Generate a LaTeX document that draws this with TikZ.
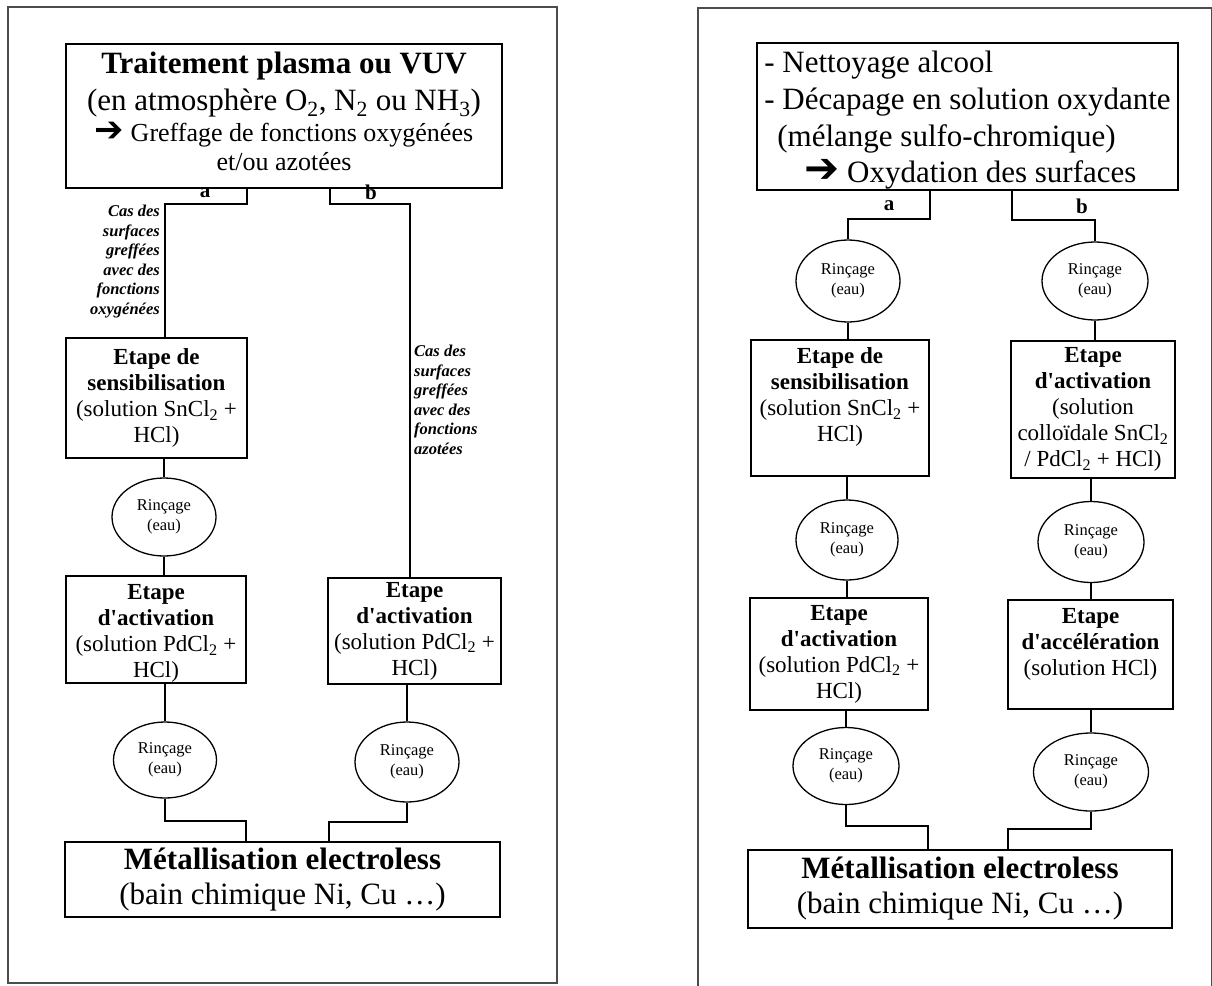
\documentclass[tikz,border=0pt]{standalone}
\usepackage{fontspec}
\setmainfont{Liberation Serif}
\newfontfamily\dejavu{DejaVu Sans}
\usetikzlibrary{shapes.geometric,calc}
\newcommand{\arrowsym}{{\dejavu\scalebox{1.35}{\char"2794}}}
\newcommand{\apos}{\textquotesingle}
\begin{document}
\begin{tikzpicture}[x=1pt,y=-1pt,
  frame/.style={draw=black!70,line width=1.4pt},
  box/.style={draw,line width=2.8pt,inner sep=0pt,align=center,font=\fontsize{23}{26}\selectfont},
  bigbox/.style={draw,line width=2.8pt,inner sep=0pt,align=center,font=\fontsize{26}{29}\selectfont},
  rinse/.style={draw,ellipse,line width=1.3pt,inner sep=0pt,align=center,font=\fontsize{16.5}{19.5}\selectfont},
  conn/.style={line width=2pt},
  branch/.style={font=\fontsize{21}{22}\selectfont\bfseries,inner sep=0pt},
  casnote/.style={font=\fontsize{16.5}{19.5}\selectfont\bfseries\itshape,inner sep=0pt}
]
\useasboundingbox (0,0) rectangle (1212,985);
% frames
\draw[frame] (8,7) rectangle (557,983);
\draw[frame] (698,1000) -- (698,8) -- (1211.3,8) -- (1211.3,1000);

% ---------------- left diagram ----------------
\node[bigbox,minimum width=436,minimum height=144] (T1) at (284,116)
 {{\fontsize{31}{37}\selectfont\bfseries Traitement plasma ou VUV}\\[8pt]
  {\fontsize{31}{37}\selectfont (en atmosphère O\textsubscript{2}, N\textsubscript{2} ou NH\textsubscript{3})}\\[2pt]
  \arrowsym\ Greffage de fonctions oxygénées\\
  et/ou azotées\\[-19pt]\mbox{}};
\node[box,minimum width=181,minimum height=120] (S1) at (156.5,398)
 {\textbf{Etape de}\\\textbf{sensibilisation}\\(solution SnCl\textsubscript{2} +\\HCl)};
\node[rinse,minimum width=104,minimum height=78] (R1) at (164,517) {Rinçage\\(eau)};
\node[box,minimum width=180,minimum height=107] (A1) at (156,629.5)
 {\mbox{}\\[-3pt]\textbf{Etape}\\\textbf{d\apos activation}\\(solution PdCl\textsubscript{2} +\\HCl)};
\node[rinse,minimum width=103,minimum height=76] (R2) at (165,760) {Rinçage\\(eau)};
\node[box,minimum width=173,minimum height=106] (A2) at (414.5,631)
 {\textbf{Etape}\\\textbf{d\apos activation}\\(solution PdCl\textsubscript{2} +\\HCl)};
\node[rinse,minimum width=104,minimum height=80] (R3) at (407,762) {Rinçage\\(eau)};
\node[box,minimum width=435,minimum height=75,font=\fontsize{31}{35}\selectfont] (M1) at (282.5,879.5)
 {\textbf{Métallisation electroless}\\(bain chimique Ni, Cu …)};

\node[branch] (la) at (205,193) {a};
\node[branch] (lb) at (371,192) {b};
\node[casnote,anchor=north east,align=right] (ca) at (160,205)
 {Cas des\\surfaces\\greffées\\avec des\\fonctions\\oxygénées};
\node[casnote,anchor=north west,align=left] (cb) at (414,345)
 {Cas des\\surfaces\\greffées\\avec des\\fonctions\\azotées};

\draw[conn] ([xshift=-37pt]T1.south) -- ++(0,15) -| ([xshift=8pt]S1.north);
\draw[conn] ([xshift=46pt]T1.south) -- ++(0,15) -| ([xshift=-5pt]A2.north);
\draw[conn] (S1.south -| R1) -- (R1.north);
\draw[conn] (R1.south) -- (R1.south |- A1.north);
\draw[conn] (A1.south -| R2) -- (R2.north);
\draw[conn] (R2.south) -- ++(0,22) -| ([xshift=-36.5pt]M1.north);
\draw[conn] (A2.south -| R3) -- (R3.north);
\draw[conn] (R3.south) -- ++(0,19) -| ([xshift=46.5pt]M1.north);

% ---------------- right diagram ----------------
\node[box,minimum width=421,minimum height=147,align=left,font=\fontsize{31}{37}\selectfont] (T2) at (967.5,116.5)
 {\mbox{}\\[-9pt]- Nettoyage alcool\\
  - Décapage en solution oxydante\\
  \hspace*{13pt}(mélange sulfo-chromique)\\[-1pt]
  \hspace*{40pt}\arrowsym\ Oxydation des surfaces};
\node[rinse,minimum width=104,minimum height=82] (Ra1) at (848,281) {Rinçage\\(eau)};
\node[rinse,minimum width=106,minimum height=78] (Rb1) at (1095,281) {Rinçage\\(eau)};
\node[box,minimum width=178,minimum height=136] (S2) at (840,408)
 {\textbf{Etape de}\\\textbf{sensibilisation}\\(solution SnCl\textsubscript{2} +\\HCl)\\\mbox{}};
\node[box,minimum width=164,minimum height=137] (B2) at (1093,409.5)
 {\textbf{Etape}\\\textbf{d\apos activation}\\(solution\\colloïdale SnCl\textsubscript{2}\\/ PdCl\textsubscript{2} + HCl)};
\node[rinse,minimum width=102,minimum height=80] (Ra2) at (847,540) {Rinçage\\(eau)};
\node[rinse,minimum width=106,minimum height=81] (Rb2) at (1091,542) {Rinçage\\(eau)};
\node[box,minimum width=178,minimum height=112] (A3) at (839,654)
 {\textbf{Etape}\\\textbf{d\apos activation}\\(solution PdCl\textsubscript{2} +\\HCl)};
\node[box,minimum width=165,minimum height=109] (C2) at (1090.5,654.5)
 {\textbf{Etape}\\\textbf{d\apos accélération}\\(solution HCl)\\\mbox{}};
\node[rinse,minimum width=106,minimum height=77] (Ra3) at (846,766) {Rinçage\\(eau)};
\node[rinse,minimum width=115,minimum height=78] (Rb3) at (1091,772) {Rinçage\\(eau)};
\node[box,minimum width=424,minimum height=78,font=\fontsize{31}{35}\selectfont] (M2) at (960,889)
 {\textbf{Métallisation electroless}\\(bain chimique Ni, Cu …)};

\node[branch] (ra) at (889,206) {a};
\node[branch] (rb) at (1082,206) {b};

\draw[conn] ([xshift=-37.5pt]T2.south) -- ++(0,28) -| (Ra1.north);
\draw[conn] ([xshift=44.5pt]T2.south) -- ++(0,29) -| (Rb1.north);
\draw[conn] (Ra1.south) -- (Ra1.south |- S2.north);
\draw[conn] (Rb1.south) -- (Rb1.south |- B2.north);
\draw[conn] (S2.south -| Ra2) -- (Ra2.north);
\draw[conn] (B2.south -| Rb2) -- (Rb2.north);
\draw[conn] (Ra2.south) -- (Ra2.south |- A3.north);
\draw[conn] (Rb2.south) -- (Rb2.south |- C2.north);
\draw[conn] (A3.south -| Ra3) -- (Ra3.north);
\draw[conn] (C2.south -| Rb3) -- (Rb3.north);
\draw[conn] (Ra3.south) -- ++(0,21) -| ([xshift=-32pt]M2.north);
\draw[conn] (Rb3.south) -- ++(0,17) -| ([xshift=48pt]M2.north);
\end{tikzpicture}
\end{document}
